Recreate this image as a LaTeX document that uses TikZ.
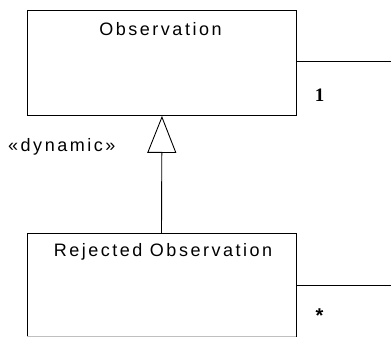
\documentclass[tikz,border=0pt]{standalone}
\usepackage{fontspec}
\setmainfont{Liberation Sans}
\newfontfamily\lsans[LetterSpace=14]{Liberation Sans}
\newfontfamily\lserif{Liberation Serif}
\usetikzlibrary{arrows.meta}
\begin{document}
\begin{tikzpicture}[x=1pt,y=-1pt,
  classbox/.style={draw=black,line width=0.9pt,minimum width=269pt,inner sep=0pt,anchor=north west},
  cname/.style={font=\lsans\fontsize{18}{20}\selectfont,inner sep=0pt},
  assoc/.style={draw=black,line width=0.9pt},
  gen/.style={draw=black,line width=0.9pt,-{Triangle[open,length=37pt,width=29pt,fill=white]}},
  mult/.style={inner sep=0pt,anchor=base}]
\useasboundingbox (0,0) rectangle (391,337);
\node[classbox,minimum height=104.5pt] (obs) at (27,10.5) {};
\node[cname] (obsname) at (160.5,29.5) {Observation};
\draw[draw=black,line width=0.9pt] (27,336.5) -- (27,233) -- (296,233) -- (296,336.5);
\draw[draw=black!25,line width=0.9pt] (27,336.5) -- (296,336.5);
\coordinate (rej) at (161.5,233);
\node[cname] (rejname) at (163,252) {Rejected Observation};
\coordinate (rejright) at (296,285);
\coordinate (obsend) at (391,61);
\coordinate (rejend) at (391,285);
\draw[gen] (rej) -- (obs.south);
\node[cname,anchor=west] (dyn) at (8,147) {«dynamic»};
\draw[assoc] (obs.east |- obsend) -- (obsend);
\draw[assoc] (rejright) -- (rejend);
\node[mult,font=\lserif\bfseries\fontsize{19}{21}\selectfont] (m1) at (319.5,101) {1};
\node[mult,font=\bfseries\fontsize{20}{22}\selectfont] (m2) at (319.5,322) {*};
\end{tikzpicture}
\end{document}
